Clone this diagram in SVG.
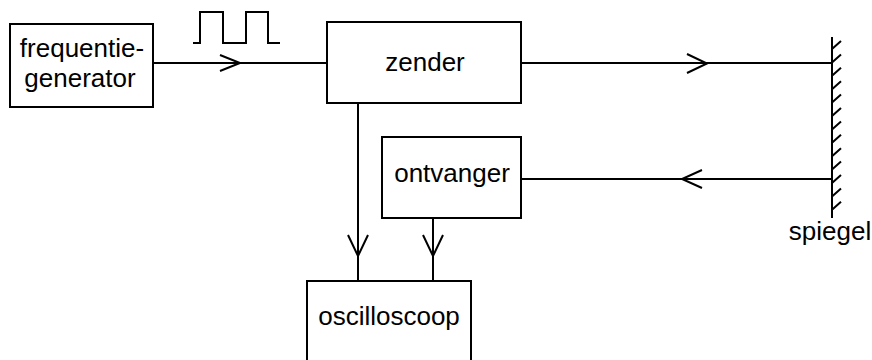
<svg xmlns="http://www.w3.org/2000/svg" width="872" height="360" viewBox="0 0 872 360">
<style>
.box{fill:#fff;stroke:#000;stroke-width:2}
.ln{fill:none;stroke:#000;stroke-width:2}
.ar{fill:none;stroke:#000;stroke-width:2;stroke-linejoin:miter}
text{font-family:"Liberation Sans",Arial,sans-serif;font-size:26px;fill:#000;text-anchor:middle}
</style>
<rect width="872" height="360" fill="#fff"/>
<g id="connectors">
<path class="ln" d="M153,63 H327"/>
<path class="ar" d="M220,55 L240,63 L220,71"/>
<path class="ln" d="M193,43 H200 V12 H223 V43 H246 V12 H268 V43 H280"/>
<path class="ln" d="M521,63 H832"/>
<path class="ar" d="M687,54 L707,63.5 L687,73"/>
<path class="ln" d="M832,179 H521"/>
<path class="ar" d="M702,170 L682,179 L702,188"/>
<path class="ln" d="M358,103 V281"/>
<path class="ar" d="M348,235 L358,256 L368,235"/>
<path class="ln" d="M433,218 V281"/>
<path class="ar" d="M423,235 L433,256 L443,235"/>
</g>
<g id="spiegel">
<path class="ln" d="M832,37 V218"/>
<path class="ln" d="M832,49 l9,-8 M832,62.4 l9,-8 M832,75.8 l9,-8 M832,89.2 l9,-8 M832,102.6 l9,-8 M832,116 l9,-8 M832,129.4 l9,-8 M832,142.8 l9,-8 M832,156.2 l9,-8 M832,169.6 l9,-8 M832,183 l9,-8 M832,196.4 l9,-8 M832,209.8 l9,-8"/>
<text x="830" y="240">spiegel</text>
</g>
<g id="frequentiegenerator">
<rect class="box" x="10" y="24" width="143" height="83"/>
<text x="82" y="57">frequentie-</text>
<text x="80" y="87">generator</text>
</g>
<g id="zender">
<rect class="box" x="327" y="22" width="194" height="81"/>
<text x="425" y="71">zender</text>
</g>
<g id="ontvanger">
<rect class="box" x="382" y="137" width="139" height="81"/>
<text x="452" y="182">ontvanger</text>
</g>
<g id="oscilloscoop">
<rect class="box" x="307" y="281" width="164" height="90"/>
<text x="389" y="325">oscilloscoop</text>
</g>
</svg>
